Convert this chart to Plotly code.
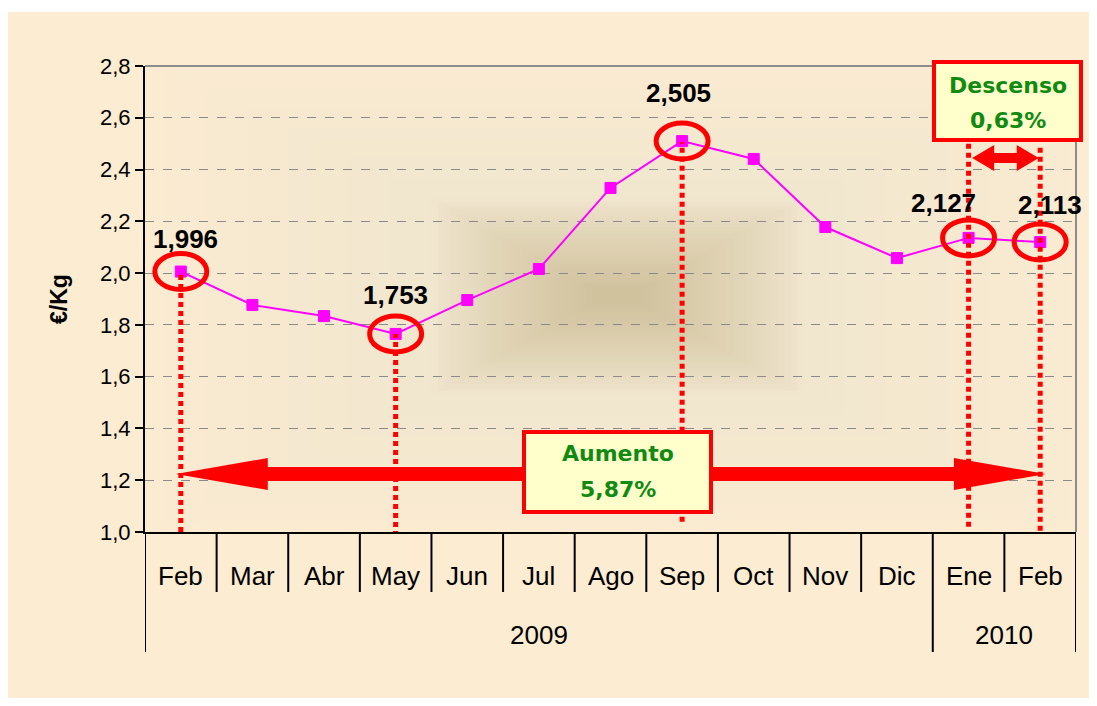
import plotly.graph_objects as go

# ---------------- data ----------------
years = ["2009"] * 11 + ["2010"] * 2
months = ["Feb", "Mar", "Abr", "May", "Jun", "Jul", "Ago", "Sep", "Oct", "Nov", "Dic", "Ene", "Feb"]
prices = [2.006, 1.877, 1.834, 1.765, 1.896, 2.016, 2.329, 2.510, 2.441, 2.178, 2.058, 2.136, 2.120]

label_idx = [0, 3, 7, 11, 12]
label_text = ["1,996", "1,753", "2,505", "2,127", "2,113"]
label_shift = [(5, 33), (0, 39), (-4, 48), (-25, 35), (10, 37)]

circle_idx = [0, 3, 7, 11, 12]
dotted_idx = [0, 3, 7, 11, 12]
dotted_top = [2.006, 1.765, 2.505, 2.50, 2.50]
dotted_bottom = [1.0, 0.985, 1.04, 1.02, 0.97]

aumento_lines = ["Aumento", "5,87%"]
descenso_lines = ["Descenso", "0,63%"]
big_arrow = (-0.07, 12.08, 1.224)
small_arrow = (11.05, 11.98, 2.445)

y_range = [1.0, 2.8]
y_dtick = 0.2

# ---------------- layout geometry (figure pixels; page has 8px body margin) ----------------
W, H = 1081, 690
ML, MR, MT, MB = 137, 13, 58, 166
PW, PH = W - ML - MR, H - MT - MB
n = len(months)
px_x = PW / n
px_y = PH / (y_range[1] - y_range[0])
OFF = 8  # page offset


def paper_x(page_px):
    return (page_px - OFF - ML) / PW


def paper_y(page_py):
    return (H - MB - (page_py - OFF)) / PH


def mix(c1, c2, t):
    a = [int(c1[k:k + 2], 16) for k in (1, 3, 5)]
    b = [int(c2[k:k + 2], 16) for k in (1, 3, 5)]
    return "#" + "".join(f"{round(x + (y - x) * t):02X}" for x, y in zip(a, b))


fig = go.Figure()
fig.add_trace(go.Scatter(
    x=list(range(n)), y=prices, mode="lines+markers",
    line=dict(color="#FF00FF", width=2),
    marker=dict(symbol="square", size=11, color="#FF00FF", line=dict(color="#FF00FF", width=1)),
    showlegend=False, hoverinfo="skip",
))

shapes = []
# cream outer background
shapes.append(dict(type="rect", xref="paper", yref="paper", layer="below",
                   x0=paper_x(8), x1=paper_x(1090), y0=paper_y(700), y1=paper_y(12),
                   fillcolor="#FCECD2", line=dict(width=0)))
# gradient (nested opaque rectangles) in plot area
EDGE, MID, CORE = "#FAEBD1", "#F0E6CE", "#D1C29E"
cx, cy = 6.1, 1.91
big_steps = 14
for i in range(big_steps):
    t = i / big_steps
    hw = 6.6 - 4.0 * t
    hh = 0.92 - 0.54 * t
    shapes.append(dict(type="rect", xref="x", yref="y", layer="below",
                       x0=cx - hw, x1=cx + hw, y0=cy - hh, y1=cy + hh,
                       fillcolor=mix(EDGE, MID, t), line=dict(width=0)))
steps = 26
for i in range(steps):
    t = i / (steps - 1)
    hw = 2.6 - 2.25 * t
    hh = 0.38 - 0.35 * t
    shapes.append(dict(type="rect", xref="x", yref="y", layer="below",
                       x0=cx - hw, x1=cx + hw, y0=cy - hh, y1=cy + hh,
                       fillcolor=mix(MID, CORE, t ** 0.8), line=dict(width=0)))
# top & right gray borders
shapes.append(dict(type="line", xref="paper", yref="paper", x0=0, x1=1, y0=1, y1=1,
                   line=dict(color="#8C8C8C", width=2)))
shapes.append(dict(type="line", xref="paper", yref="paper", x0=1, x1=1, y0=0, y1=1,
                   line=dict(color="#8C8C8C", width=2)))

# category tick marks and year dividers below axis
year_bounds = [-0.5] + [i + 0.5 for i in range(n - 1) if years[i] != years[i + 1]] + [n - 0.5]
for b in [i - 0.5 for i in range(1, n)]:
    if b in year_bounds:
        continue
    shapes.append(dict(type="line", xref="x", yref="paper", x0=b, x1=b, y0=0, y1=-60 / PH,
                       line=dict(color="black", width=2)))
for b in year_bounds:
    shapes.append(dict(type="line", xref="x", yref="paper", x0=b, x1=b, y0=0, y1=-120 / PH,
                       line=dict(color="black", width=2)))

# dotted red verticals
for i, t, b in zip(dotted_idx, dotted_top, dotted_bottom):
    shapes.append(dict(type="line", xref="x", yref="y", x0=i, x1=i, y0=b, y1=t,
                       line=dict(color="red", width=5, dash="5px,4px")))

# red ellipses
rx = 26 / px_x
ry = 18 / px_y
for i in circle_idx:
    shapes.append(dict(type="circle", xref="x", yref="y",
                       x0=i - rx, x1=i + rx, y0=prices[i] - ry, y1=prices[i] + ry,
                       line=dict(color="red", width=5)))


def double_arrow(x0, x1, yc, head_len_px, head_half_px, body_half_px):
    hl = head_len_px / px_x
    hh = head_half_px / px_y
    bh = body_half_px / px_y
    p = (f"M {x0},{yc} L {x0+hl},{yc+hh} L {x0+hl},{yc+bh} L {x1-hl},{yc+bh} "
         f"L {x1-hl},{yc+hh} L {x1},{yc} L {x1-hl},{yc-hh} L {x1-hl},{yc-bh} "
         f"L {x0+hl},{yc-bh} L {x0+hl},{yc-hh} Z")
    return dict(type="path", xref="x", yref="y", path=p, fillcolor="red",
                line=dict(color="red", width=0))


shapes.append(double_arrow(*big_arrow, 92, 16, 7))
shapes.append(double_arrow(*small_arrow, 22, 13, 5))

annotations = []
# text boxes (page pixel boxes)
for (x0, x1, y0, y1, ly1, ly2), lines in [((524, 711, 432, 512, 453, 489), aumento_lines),
                                          ((934, 1081, 62, 140, 85, 120), descenso_lines)]:
    shapes.append(dict(type="rect", xref="paper", yref="paper",
                       x0=paper_x(x0), x1=paper_x(x1), y0=paper_y(y1), y1=paper_y(y0),
                       fillcolor="#FFFFCC", line=dict(color="red", width=4)))
    for ly, txt in zip((ly1, ly2), lines):
        annotations.append(dict(x=paper_x((x0 + x1) / 2), y=paper_y(ly), xref="paper", yref="paper",
                                text=f"<b>{txt}</b>", showarrow=False, xanchor="center", yanchor="middle",
                                font=dict(family="DejaVu Sans, Verdana", size=22, color="#118A11")))

for i, t, (dx, dy) in zip(label_idx, label_text, label_shift):
    annotations.append(dict(x=i, y=prices[i], xref="x", yref="y", text=f"<b>{t}</b>",
                            showarrow=False, xshift=dx, yshift=dy,
                            font=dict(family="Liberation Sans, Arial", size=26, color="black")))

# month and year labels
for i, m in enumerate(months):
    annotations.append(dict(x=i, y=-44 / PH, xref="x", yref="paper", text=m, showarrow=False,
                            yanchor="middle", font=dict(size=26, color="black")))
for yv in dict.fromkeys(years):
    idx = [i for i, v in enumerate(years) if v == yv]
    annotations.append(dict(x=sum(idx) / len(idx), y=-103 / PH, xref="x", yref="paper", text=yv,
                            showarrow=False, yanchor="middle", font=dict(size=26, color="black")))

fig.update_layout(
    width=W, height=H,
    margin=dict(l=ML, r=MR, t=MT, b=MB),
    paper_bgcolor="white",
    plot_bgcolor=EDGE,
    separators=",.",
    font=dict(family="Liberation Sans, Arial", color="black"),
    shapes=shapes, annotations=annotations,
    xaxis=dict(range=[-0.5, n - 0.5], showticklabels=False, ticks="",
               showline=True, linecolor="black", linewidth=2, showgrid=False, zeroline=False),
    yaxis=dict(range=y_range, dtick=y_dtick, tickformat=".1f",
               showline=True, linecolor="black", linewidth=2,
               ticks="outside", ticklen=8, tickwidth=2, tickcolor="black",
               showgrid=True, gridcolor="#8A8A8A", gridwidth=1, griddash="dash",
               tickfont=dict(size=22),
               title=dict(text="<b>€/Kg</b>", font=dict(size=23), standoff=26),
               zeroline=False),
)

fig.write_html("out.html")
